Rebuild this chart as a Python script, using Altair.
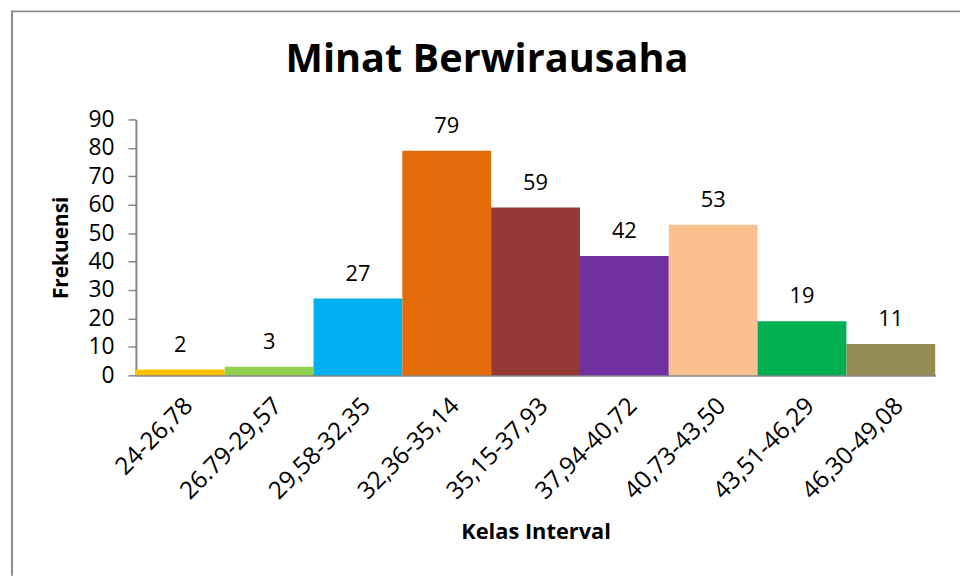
import altair as alt
import pandas as pd

categories = ["24-26,78", "26.79-29,57", "29,58-32,35", "32,36-35,14", "35,15-37,93",
              "37,94-40,72", "40,73-43,50", "43,51-46,29", "46,30-49,08"]
values = [2, 3, 27, 79, 59, 42, 53, 19, 11]
colors = ["#FFC000", "#92D050", "#00B0F0", "#E46C0A", "#953735",
          "#7030A0", "#FAC090", "#00B050", "#948A54"]
title_text = "Minat Berwirausaha"
y_ticks = [0, 10, 20, 30, 40, 50, 60, 70, 80, 90]

df = pd.DataFrame({"kelas": categories, "frek": values})
FONT = "Open Sans"

x_enc = alt.X("kelas:N", sort=categories,
              scale=alt.Scale(paddingInner=0, paddingOuter=0),
              axis=alt.Axis(title="Kelas Interval", labelAngle=-45, labelAlign="right",
                            labelBaseline="middle", labelPadding=27, labelOffset=9,
                            ticks=False, labelFontSize=24.5, labelFont=FONT,
                            labelColor="#000", labelOverlap=False,
                            titleFont=FONT, titleFontSize=22, titleFontWeight="bold",
                            titleColor="#000", titleY=158, titleBaseline="middle",
                            domainColor="#868686", domainWidth=2))
y_enc = alt.Y("frek:Q", scale=alt.Scale(domain=[0, 90], nice=False),
              axis=alt.Axis(title="Frekuensi", values=y_ticks, tickCount=10, grid=False,
                            labelOverlap=False, labelFlush=False,
                            tickSize=8, tickColor="#868686", tickWidth=1.5,
                            labelPadding=14, labelFontSize=23, labelFont=FONT,
                            labelColor="#000", titleFont=FONT, titleFontSize=21,
                            titleFontWeight="bold", titleColor="#000",
                            titleX=-75, titleY=129, titleBaseline="middle",
                            domainColor="#868686", domainWidth=2))

bars = alt.Chart(df).mark_bar().encode(
    x=x_enc, y=y_enc,
    color=alt.Color("kelas:N", sort=categories,
                    scale=alt.Scale(domain=categories, range=colors), legend=None),
)
labels = alt.Chart(df).mark_text(dy=-18, baseline="alphabetic", fontSize=22,
                                 font=FONT, color="#000").encode(
    x=alt.X("kelas:N", sort=categories), y="frek:Q", text="frek:Q")

tdf = pd.DataFrame({"t": [title_text]})
title = alt.Chart(tdf).mark_text(fontSize=40, fontWeight="bold", font=FONT,
                                 color="#000", baseline="alphabetic", align="center").encode(
    x=alt.value(354), y=alt.value(-48), text="t:N")

border_left = alt.Chart(tdf).mark_rule(color="#8c8c8c", strokeWidth=2).encode(
    x=alt.value(-125), y=alt.value(-110), y2=alt.value(460))
border_top = alt.Chart(tdf).mark_rule(color="#8c8c8c", strokeWidth=2).encode(
    x=alt.value(-125), x2=alt.value(831), y=alt.value(-109))

chart = alt.layer(bars, labels, title, border_left, border_top).properties(
    width=806, height=258,
    autosize=alt.AutoSizeParams(type="none"),
    padding={"left": 129, "top": 110, "right": 25, "bottom": 202},
).configure_view(stroke=None)

chart.save("out.html", embed_options={"renderer": "svg", "actions": False})
